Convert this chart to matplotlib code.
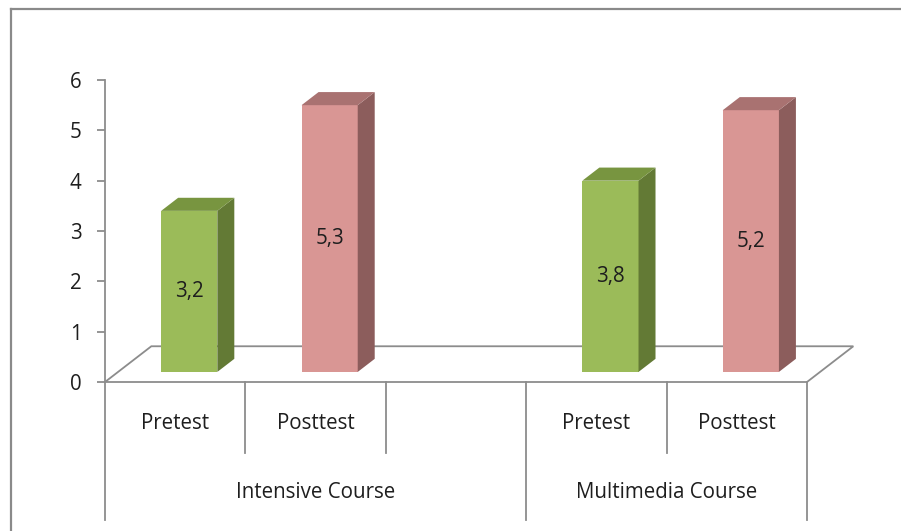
import numpy as np
import matplotlib
matplotlib.use("Agg")
import matplotlib.pyplot as plt
from matplotlib.patches import Polygon
from matplotlib.lines import Line2D

# ---- data -----------------------------------------------------------
slot_labels = ["Pretest", "Posttest", "", "Pretest", "Posttest"]
slot_values = [3.2, 5.3, np.nan, 3.8, 5.2]
group_labels = ["Intensive Course", "Multimedia Course"]
group_sizes = [3, 2]
yticks = [0, 1, 2, 3, 4, 5, 6]

# ---- style ----------------------------------------------------------
GREEN = ("#9BBB59", "#637A35", "#789540")   # front, side, top
PINK = ("#D99694", "#8C5D5C", "#A97271")
GRAY = "#8C8C8C"
TXT = "#1E1E1E"
FONT = "Open Sans"
FS = 14.8

W, H = 901, 531
fig = plt.figure(figsize=(W/100, H/100), dpi=100)
fig.patch.set_facecolor("white")

# plot area: x 0..5 -> px 105..807, y 0..6 -> px 382..80
ax = fig.add_axes([105/W, (H-382)/H, 702/W, 302/H])
ax.set_xlim(0, len(slot_labels))
ax.set_ylim(0, 6)
for s in ("top", "right", "bottom"):
    ax.spines[s].set_visible(False)
ax.spines["left"].set_color(GRAY)
ax.spines["left"].set_linewidth(1.3)
ax.set_xticks([])
ax.set_yticks(yticks)
ax.set_yticklabels([str(t) for t in yticks], fontfamily=FONT, fontsize=FS, color=TXT)
ax.tick_params(axis="y", direction="out", length=6, width=1.3, color=GRAY, pad=11)
ax.patch.set_alpha(0)

# floor (3-D base plane)
FDX, FDY = 0.33, 0.71
n = len(slot_labels)
floor = Polygon([(0, 0), (n, 0), (n+FDX, FDY), (FDX, FDY)], closed=True,
                fill=False, edgecolor=GRAY, lw=1.3, clip_on=False, zorder=1)
ax.add_patch(floor)

# bars with side/top faces
SHIFT, BW, BASE = 0.10, 0.40, 0.20
DX, DY = 0.121, 0.26
xs = np.arange(n) + 0.5 + SHIFT
for i, (x, v) in enumerate(zip(xs, slot_values)):
    if np.isnan(v):
        continue
    front, side, top = GREEN if slot_labels[i] == "Pretest" else PINK
    ax.bar(x, v, width=BW, bottom=BASE, color=front, zorder=3, clip_on=False)
    r, l, t = x + BW/2, x - BW/2, BASE + v
    ax.add_patch(Polygon([(r, BASE), (r+DX, BASE+DY), (r+DX, t+DY), (r, t)],
                         closed=True, facecolor=side, edgecolor="none",
                         zorder=3, clip_on=False))
    ax.add_patch(Polygon([(l, t), (r, t), (r+DX, t+DY), (l+DX, t+DY)],
                         closed=True, facecolor=top, edgecolor="none",
                         zorder=3, clip_on=False))
    ax.text(x, BASE + v/2, ("%.1f" % v).replace(".", ","), ha="center",
            va="center", fontfamily=FONT, fontsize=FS, color=TXT, zorder=4)

# category axis below the plot
LAB_Y, GRP_Y = -0.83, -2.19
SHORT, LONG = -1.41, -2.74
for i, lab in enumerate(slot_labels):
    ax.text(i + 0.5, LAB_Y, lab, ha="center", va="center",
            fontfamily=FONT, fontsize=FS, color=TXT, clip_on=False)
bounds = np.concatenate([[0], np.cumsum(group_sizes)])
for b in range(n + 1):
    ax.plot([b, b], [0, LONG if b in bounds else SHORT], color=GRAY,
            lw=1.3, clip_on=False, zorder=1)
for g, lab in enumerate(group_labels):
    ax.text((bounds[g] + bounds[g+1]) / 2, GRP_Y, lab, ha="center",
            va="center", fontfamily=FONT, fontsize=FS, color=TXT, clip_on=False)

# outer chart frame (only top and left visible)
fig.add_artist(Line2D([11/W, 11/W], [0, 1 - 9/H], color="#8A8A8A", lw=1.6))
fig.add_artist(Line2D([11/W, 1], [1 - 9/H, 1 - 9/H], color="#8A8A8A", lw=1.6))

fig.savefig("out.png", dpi=100, facecolor="white")
